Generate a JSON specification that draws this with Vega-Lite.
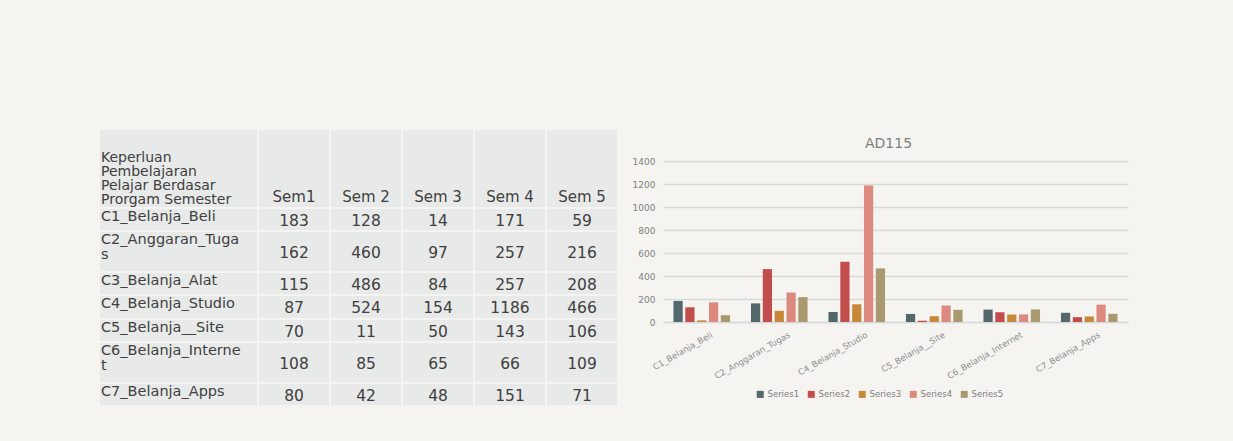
{
"$schema": "https://vega.github.io/schema/vega-lite/v6.json",
"background": "#F5F4F0",
"padding": {"left": 100, "top": 130, "right": 105, "bottom": 36},
"config": {"view": {"stroke": null}, "text": {"font": "DejaVu Sans", "fontSize": 13, "color": "#404040"}},
"resolve": {"scale": {"color": "independent"}, "legend": {"color": "independent"}},
"datasets": {
"cats": [
{"cat": "C1_Belanja_Beli", "lab": "C1_Belanja_Beli"},
{"cat": "C2_Anggaran_Tugas", "lab": ["C2_Anggaran_Tuga", "s"]},
{"cat": "C3_Belanja_Alat", "lab": "C3_Belanja_Alat"},
{"cat": "C4_Belanja_Studio", "lab": "C4_Belanja_Studio"},
{"cat": "C5_Belanja__Site", "lab": "C5_Belanja__Site"},
{"cat": "C6_Belanja_Internet", "lab": ["C6_Belanja_Interne", "t"]},
{"cat": "C7_Belanja_Apps", "lab": "C7_Belanja_Apps"}
],
"vals": [
{"cat": "C1_Belanja_Beli", "sem": "Sem1", "series": "Series1", "v": 183},
{"cat": "C1_Belanja_Beli", "sem": "Sem 2", "series": "Series2", "v": 128},
{"cat": "C1_Belanja_Beli", "sem": "Sem 3", "series": "Series3", "v": 14},
{"cat": "C1_Belanja_Beli", "sem": "Sem 4", "series": "Series4", "v": 171},
{"cat": "C1_Belanja_Beli", "sem": "Sem 5", "series": "Series5", "v": 59},
{"cat": "C2_Anggaran_Tugas", "sem": "Sem1", "series": "Series1", "v": 162},
{"cat": "C2_Anggaran_Tugas", "sem": "Sem 2", "series": "Series2", "v": 460},
{"cat": "C2_Anggaran_Tugas", "sem": "Sem 3", "series": "Series3", "v": 97},
{"cat": "C2_Anggaran_Tugas", "sem": "Sem 4", "series": "Series4", "v": 257},
{"cat": "C2_Anggaran_Tugas", "sem": "Sem 5", "series": "Series5", "v": 216},
{"cat": "C3_Belanja_Alat", "sem": "Sem1", "series": "Series1", "v": 115},
{"cat": "C3_Belanja_Alat", "sem": "Sem 2", "series": "Series2", "v": 486},
{"cat": "C3_Belanja_Alat", "sem": "Sem 3", "series": "Series3", "v": 84},
{"cat": "C3_Belanja_Alat", "sem": "Sem 4", "series": "Series4", "v": 257},
{"cat": "C3_Belanja_Alat", "sem": "Sem 5", "series": "Series5", "v": 208},
{"cat": "C4_Belanja_Studio", "sem": "Sem1", "series": "Series1", "v": 87},
{"cat": "C4_Belanja_Studio", "sem": "Sem 2", "series": "Series2", "v": 524},
{"cat": "C4_Belanja_Studio", "sem": "Sem 3", "series": "Series3", "v": 154},
{"cat": "C4_Belanja_Studio", "sem": "Sem 4", "series": "Series4", "v": 1186},
{"cat": "C4_Belanja_Studio", "sem": "Sem 5", "series": "Series5", "v": 466},
{"cat": "C5_Belanja__Site", "sem": "Sem1", "series": "Series1", "v": 70},
{"cat": "C5_Belanja__Site", "sem": "Sem 2", "series": "Series2", "v": 11},
{"cat": "C5_Belanja__Site", "sem": "Sem 3", "series": "Series3", "v": 50},
{"cat": "C5_Belanja__Site", "sem": "Sem 4", "series": "Series4", "v": 143},
{"cat": "C5_Belanja__Site", "sem": "Sem 5", "series": "Series5", "v": 106},
{"cat": "C6_Belanja_Internet", "sem": "Sem1", "series": "Series1", "v": 108},
{"cat": "C6_Belanja_Internet", "sem": "Sem 2", "series": "Series2", "v": 85},
{"cat": "C6_Belanja_Internet", "sem": "Sem 3", "series": "Series3", "v": 65},
{"cat": "C6_Belanja_Internet", "sem": "Sem 4", "series": "Series4", "v": 66},
{"cat": "C6_Belanja_Internet", "sem": "Sem 5", "series": "Series5", "v": 109},
{"cat": "C7_Belanja_Apps", "sem": "Sem1", "series": "Series1", "v": 80},
{"cat": "C7_Belanja_Apps", "sem": "Sem 2", "series": "Series2", "v": 42},
{"cat": "C7_Belanja_Apps", "sem": "Sem 3", "series": "Series3", "v": 48},
{"cat": "C7_Belanja_Apps", "sem": "Sem 4", "series": "Series4", "v": 151},
{"cat": "C7_Belanja_Apps", "sem": "Sem 5", "series": "Series5", "v": 71}
]
},
"spacing": 15,
"hconcat": [
{"spacing": 2, "vconcat": [
 {"spacing": 2, "hconcat": [
  {"width": 157, "height": 77, "data": {"values": [{"t": ["Keperluan", "Pembelajaran", "Pelajar Berdasar", "Prorgam Semester"]}]}, "view": {"fill": "#E8E9E9"}, "mark": {"type": "text", "align": "left", "baseline": "top", "dx": 1, "dy": 21, "fontSize": 14, "lineHeight": 14}, "encoding": {"x": {"value": 0}, "y": {"value": 0}, "text": {"field": "t"}}},
  {"width": 358, "height": 77, "data": {"name": "vals"}, "transform": [{"filter": {"field": "cat", "equal": "C1_Belanja_Beli"}}], "encoding": {"x": {"field": "sem", "type": "nominal", "sort": null, "axis": null, "scale": {"paddingInner": 0.028, "paddingOuter": 0}}}, "layer": [
   {"mark": {"type": "rect", "fill": "#E8E9E9"}},
   {"mark": {"type": "text", "baseline": "bottom", "dy": -2, "fontSize": 15}, "encoding": {"y": {"value": "height"}, "text": {"field": "sem"}}}
  ]}
 ]},
 {"spacing": 2, "hconcat": [
  {"width": 157, "height": 21, "data": {"name": "cats"}, "transform": [{"filter": {"field": "cat", "equal": "C1_Belanja_Beli"}}], "view": {"fill": "#E8E9E9"}, "mark": {"type": "text", "align": "left", "baseline": "top", "dx": 1, "dy": 1, "fontSize": 14.5, "lineHeight": 14.5}, "encoding": {"x": {"value": 0}, "y": {"value": 0}, "text": {"field": "lab"}}},
  {"width": 358, "height": 21, "data": {"name": "vals"}, "transform": [{"filter": {"field": "cat", "equal": "C1_Belanja_Beli"}}], "encoding": {"x": {"field": "sem", "type": "nominal", "sort": null, "axis": null, "scale": {"paddingInner": 0.028, "paddingOuter": 0}}}, "layer": [
   {"mark": {"type": "rect", "fill": "#E8E9E9"}},
   {"mark": {"type": "text", "baseline": "middle", "dy": 1, "fontSize": 15.5}, "encoding": {"text": {"field": "v"}}}
  ]}
 ]},
 {"spacing": 2, "hconcat": [
  {"width": 157, "height": 39, "data": {"name": "cats"}, "transform": [{"filter": {"field": "cat", "equal": "C2_Anggaran_Tugas"}}], "view": {"fill": "#E8E9E9"}, "mark": {"type": "text", "align": "left", "baseline": "top", "dx": 1, "dy": 1, "fontSize": 14.5, "lineHeight": 14.5}, "encoding": {"x": {"value": 0}, "y": {"value": 0}, "text": {"field": "lab"}}},
  {"width": 358, "height": 39, "data": {"name": "vals"}, "transform": [{"filter": {"field": "cat", "equal": "C2_Anggaran_Tugas"}}], "encoding": {"x": {"field": "sem", "type": "nominal", "sort": null, "axis": null, "scale": {"paddingInner": 0.028, "paddingOuter": 0}}}, "layer": [
   {"mark": {"type": "rect", "fill": "#E8E9E9"}},
   {"mark": {"type": "text", "baseline": "middle", "dy": 1, "fontSize": 15.5}, "encoding": {"text": {"field": "v"}}}
  ]}
 ]},
 {"spacing": 2, "hconcat": [
  {"width": 157, "height": 21, "data": {"name": "cats"}, "transform": [{"filter": {"field": "cat", "equal": "C3_Belanja_Alat"}}], "view": {"fill": "#E8E9E9"}, "mark": {"type": "text", "align": "left", "baseline": "top", "dx": 1, "dy": 1, "fontSize": 14.5, "lineHeight": 14.5}, "encoding": {"x": {"value": 0}, "y": {"value": 0}, "text": {"field": "lab"}}},
  {"width": 358, "height": 21, "data": {"name": "vals"}, "transform": [{"filter": {"field": "cat", "equal": "C3_Belanja_Alat"}}], "encoding": {"x": {"field": "sem", "type": "nominal", "sort": null, "axis": null, "scale": {"paddingInner": 0.028, "paddingOuter": 0}}}, "layer": [
   {"mark": {"type": "rect", "fill": "#E8E9E9"}},
   {"mark": {"type": "text", "baseline": "middle", "dy": 1, "fontSize": 15.5}, "encoding": {"text": {"field": "v"}}}
  ]}
 ]},
 {"spacing": 2, "hconcat": [
  {"width": 157, "height": 22, "data": {"name": "cats"}, "transform": [{"filter": {"field": "cat", "equal": "C4_Belanja_Studio"}}], "view": {"fill": "#E8E9E9"}, "mark": {"type": "text", "align": "left", "baseline": "top", "dx": 1, "dy": 1, "fontSize": 14.5, "lineHeight": 14.5}, "encoding": {"x": {"value": 0}, "y": {"value": 0}, "text": {"field": "lab"}}},
  {"width": 358, "height": 22, "data": {"name": "vals"}, "transform": [{"filter": {"field": "cat", "equal": "C4_Belanja_Studio"}}], "encoding": {"x": {"field": "sem", "type": "nominal", "sort": null, "axis": null, "scale": {"paddingInner": 0.028, "paddingOuter": 0}}}, "layer": [
   {"mark": {"type": "rect", "fill": "#E8E9E9"}},
   {"mark": {"type": "text", "baseline": "middle", "dy": 1, "fontSize": 15.5}, "encoding": {"text": {"field": "v"}}}
  ]}
 ]},
 {"spacing": 2, "hconcat": [
  {"width": 157, "height": 21, "data": {"name": "cats"}, "transform": [{"filter": {"field": "cat", "equal": "C5_Belanja__Site"}}], "view": {"fill": "#E8E9E9"}, "mark": {"type": "text", "align": "left", "baseline": "top", "dx": 1, "dy": 1, "fontSize": 14.5, "lineHeight": 14.5}, "encoding": {"x": {"value": 0}, "y": {"value": 0}, "text": {"field": "lab"}}},
  {"width": 358, "height": 21, "data": {"name": "vals"}, "transform": [{"filter": {"field": "cat", "equal": "C5_Belanja__Site"}}], "encoding": {"x": {"field": "sem", "type": "nominal", "sort": null, "axis": null, "scale": {"paddingInner": 0.028, "paddingOuter": 0}}}, "layer": [
   {"mark": {"type": "rect", "fill": "#E8E9E9"}},
   {"mark": {"type": "text", "baseline": "middle", "dy": 1, "fontSize": 15.5}, "encoding": {"text": {"field": "v"}}}
  ]}
 ]},
 {"spacing": 2, "hconcat": [
  {"width": 157, "height": 39, "data": {"name": "cats"}, "transform": [{"filter": {"field": "cat", "equal": "C6_Belanja_Internet"}}], "view": {"fill": "#E8E9E9"}, "mark": {"type": "text", "align": "left", "baseline": "top", "dx": 1, "dy": 1, "fontSize": 14.5, "lineHeight": 14.5}, "encoding": {"x": {"value": 0}, "y": {"value": 0}, "text": {"field": "lab"}}},
  {"width": 358, "height": 39, "data": {"name": "vals"}, "transform": [{"filter": {"field": "cat", "equal": "C6_Belanja_Internet"}}], "encoding": {"x": {"field": "sem", "type": "nominal", "sort": null, "axis": null, "scale": {"paddingInner": 0.028, "paddingOuter": 0}}}, "layer": [
   {"mark": {"type": "rect", "fill": "#E8E9E9"}},
   {"mark": {"type": "text", "baseline": "middle", "dy": 1, "fontSize": 15.5}, "encoding": {"text": {"field": "v"}}}
  ]}
 ]},
 {"spacing": 2, "hconcat": [
  {"width": 157, "height": 21, "data": {"name": "cats"}, "transform": [{"filter": {"field": "cat", "equal": "C7_Belanja_Apps"}}], "view": {"fill": "#E8E9E9"}, "mark": {"type": "text", "align": "left", "baseline": "top", "dx": 1, "dy": 1, "fontSize": 14.5, "lineHeight": 14.5}, "encoding": {"x": {"value": 0}, "y": {"value": 0}, "text": {"field": "lab"}}},
  {"width": 358, "height": 21, "data": {"name": "vals"}, "transform": [{"filter": {"field": "cat", "equal": "C7_Belanja_Apps"}}], "encoding": {"x": {"field": "sem", "type": "nominal", "sort": null, "axis": null, "scale": {"paddingInner": 0.028, "paddingOuter": 0}}}, "layer": [
   {"mark": {"type": "rect", "fill": "#E8E9E9"}},
   {"mark": {"type": "text", "baseline": "middle", "dy": 1, "fontSize": 15.5}, "encoding": {"text": {"field": "v"}}}
  ]}
 ]}
]},
{"spacing": 0, "resolve": {"scale": {"color": "independent"}, "legend": {"color": "independent"}}, "vconcat": [
 {"width": 465, "height": 7, "view": {"fill": "#F5F4F0"}, "data": {"values": []}, "mark": {"type": "text"}, "encoding": {}},
 {"width": 465, "height": 161, "data": {"name": "vals"}, "transform": [{"filter": "datum.cat != 'C3_Belanja_Alat'"}],
  "title": {"text": "AD115", "font": "DejaVu Sans", "fontSize": 14, "fontWeight": "normal", "color": "#7F7F7F", "offset": 6, "dx": -7},
  "mark": {"type": "bar"},
  "encoding": {
   "x": {"field": "cat", "type": "nominal", "sort": null, "scale": {"paddingInner": 0.27, "paddingOuter": 0.135}, "axis": {"title": null, "labelAngle": -30, "labelFont": "DejaVu Sans", "labelFontSize": 8.5, "labelColor": "#8C8C8C", "ticks": false, "domainColor": "#D9D9D9", "domainWidth": 1.5, "labelPadding": 8, "labelOffset": 8}},
   "xOffset": {"field": "series", "type": "nominal", "scale": {"paddingInner": 0.22}},
   "y": {"field": "v", "type": "quantitative", "scale": {"domain": [0, 1400], "nice": false}, "axis": {"title": null, "format": "d", "values": [0, 200, 400, 600, 800, 1000, 1200, 1400], "domain": false, "ticks": false, "labelFont": "DejaVu Sans", "labelFontSize": 9, "labelColor": "#7F7F7F", "gridColor": "#D9D9D9", "gridWidth": 1.5, "labelPadding": 8}},
   "color": {"field": "series", "type": "nominal", "scale": {"range": ["#53686A", "#C24D4D", "#C8883A", "#DC8A80", "#A89A6E"]}, "legend": {"orient": "none", "legendX": 93, "legendY": 229, "direction": "horizontal", "title": null, "symbolType": "square", "symbolSize": 49, "symbolStrokeWidth": 0, "labelFont": "DejaVu Sans", "labelFontSize": 8.5, "labelColor": "#7F7F7F", "columnPadding": 7, "labelOffset": 3}}
  }
 }
]}
]
}
